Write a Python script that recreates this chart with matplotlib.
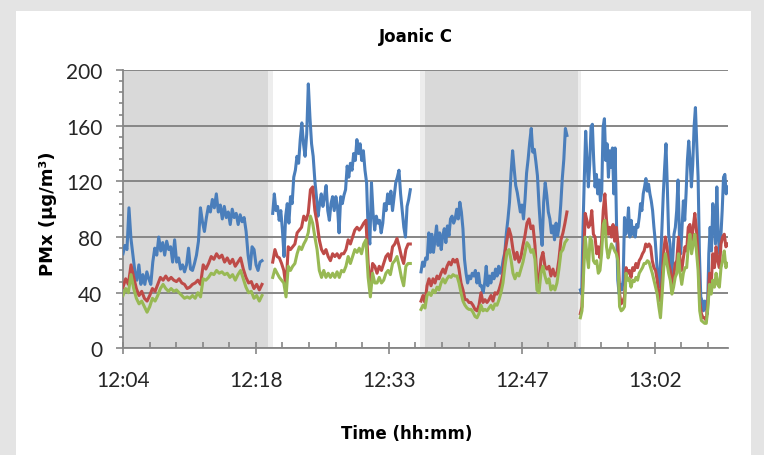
import numpy as np
import matplotlib.pyplot as plt
from matplotlib.patches import Rectangle
from matplotlib.ticker import FixedLocator, MultipleLocator

# logging blocks, minutes after 12:04 (start, end)
blocks = [(0.0, 15.06), (16.22, 31.13), (32.29, 48.10), (49.55, 65.50)]

# shaded periods (minutes after 12:04)
shaded = [(0.0, 15.68), (32.72, 49.30)]
edges = [(15.68, 16.22), (32.18, 32.72), (49.30, 49.62)]

tick_pos = [0, 14.4, 28.8, 43.2, 57.6]
tick_labels = ["12:04", "12:18", "12:33", "12:47", "13:02"]

blue_vals = [
    [68, 74, 71, 101, 79, 67, 55, 49, 60, 46, 53, 46, 55, 50, 46, 62, 72, 67, 80, 70,
     76, 67, 77, 71, 73, 62, 78, 62, 65, 57, 60, 55, 60, 72, 57, 56, 61, 67, 77, 101,
     91, 84, 94, 102, 98, 107, 101, 111, 98, 103, 93, 102, 94, 98, 89, 100, 94, 97, 89, 96,
     91, 94, 84, 67, 57, 73, 71, 60, 56, 62, 63],
    [97, 111, 99, 102, 92, 99, 85, 66, 95, 104, 90, 109, 104, 123, 128, 138, 133, 150, 162, 147,
     138, 154, 190, 166, 147, 138, 121, 109, 95, 104, 111, 102, 109, 117, 99, 92, 104, 109, 99, 109,
     102, 83, 109, 104, 110, 114, 131, 123, 133, 128, 140, 135, 150, 140, 147, 135, 142, 128, 119, 83,
     75, 119, 97, 85, 95, 90, 92, 83, 90, 104, 99, 111, 104, 113, 99, 109, 119, 123, 128, 111,
     99, 87, 80, 102, 107, 114],
    [55, 62, 59, 65, 64, 83, 69, 82, 69, 78, 88, 74, 83, 71, 81, 86, 76, 88, 81, 93,
     95, 90, 93, 100, 93, 105, 98, 86, 64, 54, 47, 52, 50, 54, 52, 56, 47, 54, 45, 45,
     40, 47, 59, 45, 52, 47, 54, 50, 57, 52, 59, 54, 57, 64, 69, 83, 93, 105, 126, 142,
     129, 117, 112, 105, 98, 103, 93, 107, 126, 136, 148, 158, 141, 143, 134, 124, 103, 86, 74, 105,
     119, 110, 98, 93, 83, 88, 78, 90, 81, 88, 103, 122, 136, 158, 153],
    [42, 39, 87, 123, 156, 135, 116, 132, 159, 161, 135, 116, 125, 111, 121, 106, 113, 159, 165, 135,
     147, 123, 142, 130, 144, 111, 144, 92, 49, 39, 46, 42, 49, 94, 82, 87, 101, 80, 92, 82,
     87, 80, 89, 87, 94, 104, 99, 111, 116, 122, 113, 118, 111, 106, 99, 87, 77, 63, 49, 44,
     63, 87, 111, 130, 147, 116, 82, 75, 49, 63, 82, 87, 99, 121, 82, 68, 87, 106, 92, 111,
     135, 149, 135, 116, 132, 159, 173, 147, 123, 68, 37, 34, 27, 34, 30, 25, 68, 87, 70, 104,
     92, 75, 116, 82, 68, 80, 99, 123, 125, 111, 116],
]

red_vals = [
    [44, 50, 46, 60, 51, 43, 38, 41, 36, 34, 38, 43, 41, 46, 51, 49, 52, 49, 51, 49,
     48, 50, 47, 46, 43, 44, 46, 47, 49, 46, 60, 57, 61, 66, 64, 68, 65, 67, 62, 65,
     61, 64, 59, 62, 65, 57, 51, 47, 48, 43, 46, 42, 46],
    [62, 71, 66, 65, 61, 56, 44, 73, 71, 73, 75, 83, 85, 87, 95, 92, 97, 114, 116, 99,
     90, 78, 71, 68, 71, 66, 63, 68, 66, 68, 65, 68, 68, 71, 78, 75, 80, 85, 87, 85,
     87, 90, 92, 61, 44, 61, 59, 54, 59, 56, 61, 66, 68, 63, 73, 75, 79, 73, 66, 61,
     71, 75, 75],
    [34, 38, 33, 45, 50, 45, 50, 47, 52, 50, 54, 57, 54, 59, 62, 60, 64, 62, 64, 57,
     47, 42, 35, 35, 33, 33, 31, 28, 27, 31, 40, 33, 35, 33, 35, 38, 34, 40, 39, 42,
     47, 54, 69, 78, 86, 81, 71, 64, 69, 62, 66, 74, 81, 90, 93, 86, 88, 74, 50, 47,
     64, 69, 59, 57, 59, 52, 57, 52, 54, 64, 78, 83, 90, 98],
    [25, 30, 63, 97, 92, 87, 89, 99, 82, 80, 68, 73, 65, 77, 99, 111, 92, 82, 87, 80,
     89, 77, 87, 75, 39, 32, 34, 37, 58, 54, 56, 51, 58, 56, 61, 58, 63, 65, 68, 70,
     75, 73, 75, 73, 63, 58, 56, 49, 39, 34, 49, 70, 80, 73, 61, 56, 44, 51, 61, 63,
     80, 63, 56, 65, 73, 70, 87, 89, 77, 87, 97, 85, 68, 34, 25, 22, 22, 20, 34, 54,
     46, 68, 58, 73, 63, 58, 75, 80, 82, 73, 75],
]

green_vals = [
    [38, 43, 40, 53, 43, 36, 32, 34, 30, 26, 30, 36, 34, 38, 43, 46, 43, 41, 43, 41,
     42, 40, 38, 36, 37, 36, 38, 36, 40, 37, 50, 49, 51, 54, 53, 56, 54, 55, 53, 54,
     51, 53, 49, 53, 56, 50, 44, 40, 41, 36, 38, 34, 38],
    [51, 57, 54, 51, 49, 47, 37, 59, 56, 59, 61, 68, 73, 71, 75, 78, 83, 95, 90, 80,
     71, 56, 51, 56, 51, 54, 51, 54, 51, 55, 51, 56, 55, 59, 66, 61, 66, 71, 69, 72,
     68, 75, 78, 51, 37, 54, 47, 47, 51, 47, 49, 54, 56, 53, 61, 63, 66, 59, 51, 45,
     59, 61, 61],
    [28, 31, 29, 38, 40, 38, 42, 40, 44, 42, 47, 50, 47, 50, 52, 51, 53, 52, 52, 47,
     40, 34, 31, 29, 28, 28, 26, 23, 22, 25, 31, 27, 28, 27, 29, 31, 28, 32, 31, 35,
     40, 47, 59, 69, 71, 64, 54, 50, 54, 52, 57, 62, 69, 76, 74, 69, 71, 64, 42, 40,
     54, 59, 52, 47, 50, 42, 45, 42, 47, 57, 69, 71, 76, 78],
    [22, 27, 54, 80, 68, 58, 80, 77, 63, 61, 63, 54, 56, 68, 89, 92, 73, 65, 70, 75,
     73, 70, 68, 63, 30, 27, 28, 30, 54, 49, 50, 44, 49, 48, 51, 49, 54, 56, 58, 61,
     61, 63, 62, 58, 54, 49, 44, 39, 30, 22, 39, 58, 68, 61, 54, 49, 39, 44, 51, 54,
     68, 54, 46, 54, 58, 58, 73, 82, 68, 75, 82, 70, 56, 27, 20, 19, 18, 18, 30, 46,
     39, 49, 44, 54, 46, 44, 58, 63, 70, 58, 61],
]

colors = ['#4a7ebb', '#be4b48', '#98b954']
axis_grey = '#868686'


def main():
    fig = plt.figure(figsize=(7.64, 4.56), dpi=100, facecolor='#e4e4e4')
    # white chart panel behind everything
    fig.patches.append(Rectangle((16 / 764, 0), 735 / 764, 444 / 456, transform=fig.transFigure,
                                 facecolor='white', edgecolor='none', zorder=-5))

    ax = fig.add_axes([123 / 764, 1 - 349.4 / 456, 605 / 764, 278.4 / 456])
    ax.set_zorder(2)
    ax.set_facecolor('none')

    for a, b in shaded:
        ax.axvspan(a, b, color='#d9d9d9', lw=0, zorder=0)
    for a, b in edges:
        ax.axvspan(a, b, color='#ededed', lw=0, zorder=0)

    for vals_list, c in zip([blue_vals, red_vals, green_vals], colors):
        for (t0, t1), vals in zip(blocks, vals_list):
            t = np.linspace(t0, t1, len(vals))
            ax.plot(t, vals, color=c, lw=2.2, solid_joinstyle='round', zorder=3)

    ax.set_xlim(0, 65.55)
    ax.set_ylim(0, 200)
    ax.xaxis.set_major_locator(FixedLocator(tick_pos))
    ax.set_xticklabels(tick_labels)
    ax.xaxis.set_minor_locator(MultipleLocator(2.88))
    ax.yaxis.set_major_locator(MultipleLocator(40))
    ax.yaxis.set_minor_locator(MultipleLocator(8))

    ax.yaxis.grid(True, color=axis_grey, lw=1.4, zorder=1)
    ax.set_axisbelow(True)
    for s in ['top', 'right']:
        ax.spines[s].set_visible(False)
    for s in ['left', 'bottom']:
        ax.spines[s].set_color(axis_grey)
        ax.spines[s].set_linewidth(1.3)

    ax.tick_params(axis='y', which='major', direction='out', length=5, width=1.2,
                   color=axis_grey, pad=10)
    ax.tick_params(axis='y', which='minor', direction='out', length=3, width=1.2, color=axis_grey)
    ax.tick_params(axis='x', which='major', direction='inout', length=9, width=1.2,
                   color=axis_grey, pad=11)
    ax.tick_params(axis='x', which='minor', direction='in', length=4.3, width=1.2, color=axis_grey)
    for lab in ax.get_xticklabels() + ax.get_yticklabels():
        lab.set_fontfamily('Lato')
        lab.set_fontsize(15)
        lab.set_color('#262626')

    fig.text(416 / 764, 1 - 37 / 456, 'Joanic C', ha='center', va='center',
             fontsize=12, fontweight='bold')
    fig.text(407 / 764, 1 - 434 / 456, 'Time (hh:mm)', ha='center', va='center',
             fontsize=12, fontweight='bold')
    fig.text(48 / 764, 1 - 214 / 456, 'PMx (µg/m³)', ha='center', va='center',
             rotation=90, fontsize=13, fontweight='bold')

    fig.savefig('out.png', dpi=100, facecolor=fig.get_facecolor())


if __name__ == "__main__":
    main()
